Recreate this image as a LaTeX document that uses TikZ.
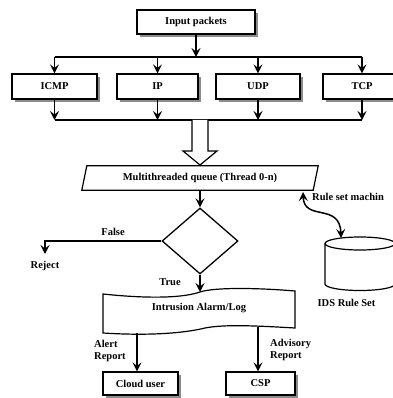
\documentclass[tikz,border=0pt]{standalone}
\usepackage{fontspec}
\setmainfont{Liberation Serif}
\usetikzlibrary{arrows.meta,shadows,shapes.geometric}
\begin{document}
\begin{tikzpicture}[x=1pt,y=-1pt,
  font=\bfseries\fontsize{10.5}{12}\selectfont,
  box/.style={draw, line width=1.2pt, fill=white, inner sep=0pt,
    drop shadow={shadow xshift=3pt, shadow yshift=-3pt, fill=black!45, opacity=1}},
  tip/.tip={Stealth[length=9pt,width=9pt,inset=3.5pt]},
  arr/.style={line width=1.5pt, -tip},
  ln/.style={line width=1.5pt},
  lbl/.style={inner sep=0pt}]
\useasboundingbox (0,0) rectangle (392,398);

% packet source and protocol classes
\node[box, minimum width=118pt, minimum height=24pt] (inp) at (196,22) {Input packets};
\node[box, minimum width=85pt, minimum height=25pt] (icmp) at (54.5,86.5) {ICMP};
\node[box, minimum width=81pt, minimum height=25pt] (ip) at (157.5,86.5) {IP};
\node[box, minimum width=84pt, minimum height=25pt] (udp) at (258,86.5) {UDP};
\node[box, minimum width=78pt, minimum height=25pt] (tcp) at (362,86.5) {TCP};

% distribution bus
\coordinate (tb) at (196,57);
\draw[arr] (inp.south) -- (tb);
\draw[ln] (icmp.north |- tb) -- (tcp.north |- tb);
\foreach \n in {icmp,ip,udp,tcp} \draw[arr] (\n.north |- tb) -- (\n.north);

% collecting bus
\coordinate (bb) at (200,120);
\foreach \n in {icmp,ip,udp,tcp} \draw[arr] (\n.south) -- (\n.south |- bb);
\draw[ln] (icmp.south |- bb) -- (tcp.south |- bb);

% block arrow into the queue
\draw[line width=1.2pt, fill=white] (192,120) -- (192,151) -- (183,151) -- (200,165)
  -- (217,151) -- (208,151) -- (208,120);

% queue (parallelogram)
\node[minimum width=236pt, minimum height=24pt, inner sep=0pt] (queue) at (200,178)
  {Multithreaded queue (Thread 0-n)};
\draw[line width=1.2pt] ([xshift=5pt]queue.north west) -- (queue.north east)
  -- ([xshift=-5pt]queue.south east) -- (queue.south west) -- cycle;

% decision
\node[diamond, draw, line width=1.3pt, minimum width=76pt, minimum height=66pt,
  inner sep=0pt, aspect=1.15] (dec) at (200,241) {};
\draw[arr] (queue.south) -- (dec.north);

\coordinate (rj) at (45,254);
\draw[arr] (dec.west) -| (rj);
\node[lbl] (false) at (113,232) {False};
\node[lbl] (reject) at (45,266) {Reject};
\node[lbl] (true) at (170,282) {True};

% alarm / log document
\node[minimum width=192pt, minimum height=36pt] (alarm) at (199,308) {Intrusion Alarm/Log};
\draw[line width=1.2pt] (103,294) .. controls (140,298) and (180,299) .. (200,292)
  .. controls (215,287) and (260,288) .. (295,291) -- (295,328)
  .. controls (260,326) and (225,324) .. (205,328)
  .. controls (185,333) and (150,336) .. (103,333) -- cycle;
\coordinate (at) at (200,292);
\draw[arr] (dec.south) -- (at);

% reports
\node[box, minimum width=75pt, minimum height=23pt] (cloud) at (140.5,383.5) {Cloud user};
\node[box, minimum width=69pt, minimum height=23pt] (csp) at (260.5,383.5) {CSP};
\coordinate (al) at (137,333);
\coordinate (ad) at (258,327);
\draw[arr] (al) -- (al |- cloud.north);
\draw[arr] (ad) -- (ad |- csp.north);
\node[lbl, align=left, anchor=west] (alertl) at (94,351) {Alert\\Report};
\node[lbl, align=left, anchor=west] (advl) at (270,349.5) {Advisory\\Report};

% rule set store
\draw[line width=1.2pt] (360,243.5) ellipse[x radius=35, y radius=6.5];
\draw[line width=1.2pt] (325,243.5) -- (325,284)
  arc[start angle=180, end angle=0, x radius=35, y radius=6.5] -- (395,243.5);
\node[lbl] (idsl) at (346.5,303) {IDS Rule Set};
\node[lbl, anchor=west] (rsm) at (312,197) {Rule set machin};
\coordinate (ra) at (303,192);
\coordinate (rb) at (341,238);
\draw[line width=1.5pt, tip-tip] (ra) .. controls (304,222) and (340,202) .. (rb);
\end{tikzpicture}
\end{document}
